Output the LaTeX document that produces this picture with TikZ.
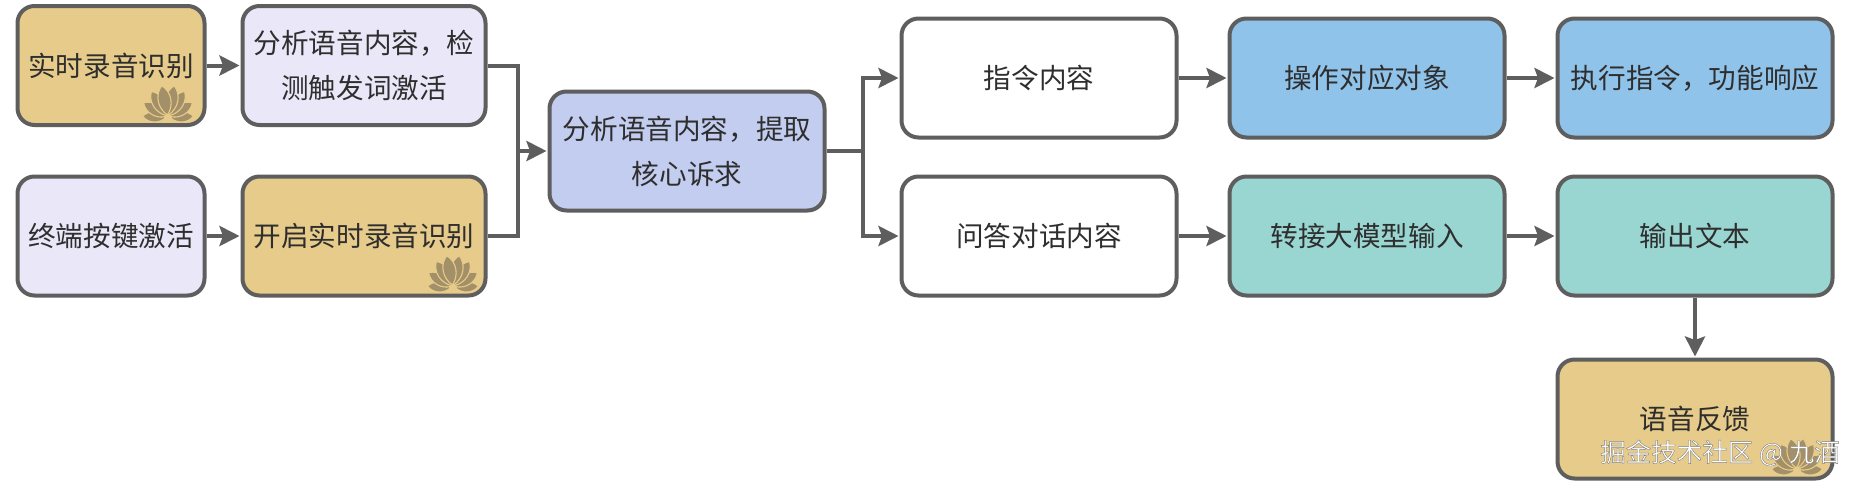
\documentclass[tikz,border=0pt]{standalone}
\usepackage{fontspec}
\usetikzlibrary{arrows.meta}
\setmainfont{Noto Sans CJK SC}
\definecolor{edgeC}{HTML}{5E5E5E}
\definecolor{goldC}{HTML}{E6CB8A}
\definecolor{lavC}{HTML}{EAE8F8}
\definecolor{periC}{HTML}{C3CDEF}
\definecolor{blueC}{HTML}{90C3EA}
\definecolor{tealC}{HTML}{99D6D2}
\definecolor{logoC}{HTML}{A38F68}
\definecolor{txtC}{HTML}{2E2E2E}
\tikzset{
  x=1pt,y=-1pt,
  boxbase/.style={draw=edgeC,line width=4pt,rounded corners=17pt,align=center,inner sep=0pt,
     text=txtC,font=\fontsize{27.6pt}{45pt}\selectfont,anchor=center},
  small/.style={boxbase,minimum width=187pt,minimum height=119pt},
  mid/.style={boxbase,minimum width=243pt,minimum height=119pt},
  wide/.style={boxbase,minimum width=275pt,minimum height=119pt},
  link/.style={draw=edgeC,line width=4pt},
  arrowlink/.style={link,-{Stealth[length=20pt,width=20pt,inset=3.5pt]},shorten >=1pt},
  petal/.pic={\filldraw[fill=logoC,draw=goldC,line width=1.1pt] (0,-3) .. controls (-8,-11) and (-8.5,-24) .. (0,-32)
      .. controls (8.5,-24) and (8,-11) .. (0,-3) -- cycle;},
  hlogo/.pic={
    \foreach \a/\s in {-86/0.8,86/0.8,-58/0.9,58/0.9,-32/0.98,32/0.98,-11/1.03,11/1.03}
      {\pic[rotate=\a,scale=\s] {petal};}
  }
}
\begin{document}
\begin{tikzpicture}
\useasboundingbox (0,0) rectangle (1852,483);
\fill[white] (0,0) rectangle (1852,483);
\node[small,fill=goldC] (a1) at (111,65.5) {实时录音识别};
\node[mid,fill=lavC] (a2) at (364,65.5) {分析语音内容，检\\测触发词激活};
\node[small,fill=lavC] (b1) at (111,236) {终端按键激活};
\node[mid,fill=goldC] (b2) at (364,236) {开启实时录音识别};
\node[wide,fill=periC] (c) at (687,151) {分析语音内容，提取\\核心诉求};
\node[wide,fill=white] (d1) at (1039,78) {指令内容};
\node[wide,fill=white] (d2) at (1039,236) {问答对话内容};
\node[wide,fill=blueC] (e1) at (1367,78) {操作对应对象};
\node[wide,fill=tealC] (e2) at (1367,236) {转接大模型输入};
\node[wide,fill=blueC] (f1) at (1695,78) {执行指令，功能响应};
\node[wide,fill=tealC] (f2) at (1695,236) {输出文本};
\node[wide,fill=goldC] (g) at (1695,419) {\raisebox{2pt}{语音反馈}};
\pic at (168,118) {hlogo};
\pic at (453,288) {hlogo};
\pic at (1797,471) {hlogo};
\coordinate (jl) at (518,151);
\coordinate (jr) at (863,151);
\draw[arrowlink] (a1) -- (a2);
\draw[arrowlink] (b1) -- (b2);
\draw[link] (a2.east) -| (jl);
\draw[link] (b2.east) -| (jl);
\draw[arrowlink] (jl) -- (c);
\draw[link] (c) -- (jr);
\draw[arrowlink] (jr) |- (d1);
\draw[arrowlink] (jr) |- (d2);
\draw[arrowlink] (d1) -- (e1);
\draw[arrowlink] (d2) -- (e2);
\draw[arrowlink] (e1) -- (f1);
\draw[arrowlink] (e2) -- (f2);
\draw[arrowlink] (f2) -- (g);
\node[font=\fontsize{25.5pt}{30pt}\selectfont,text=white,inner sep=0pt,anchor=east] (w) at (1840,453)
  {\special{pdf:code q 2 Tr 0.4 w 0.5 G}掘金技术社区 @ 九酒\special{pdf:code Q}};
\end{tikzpicture}
\end{document}
